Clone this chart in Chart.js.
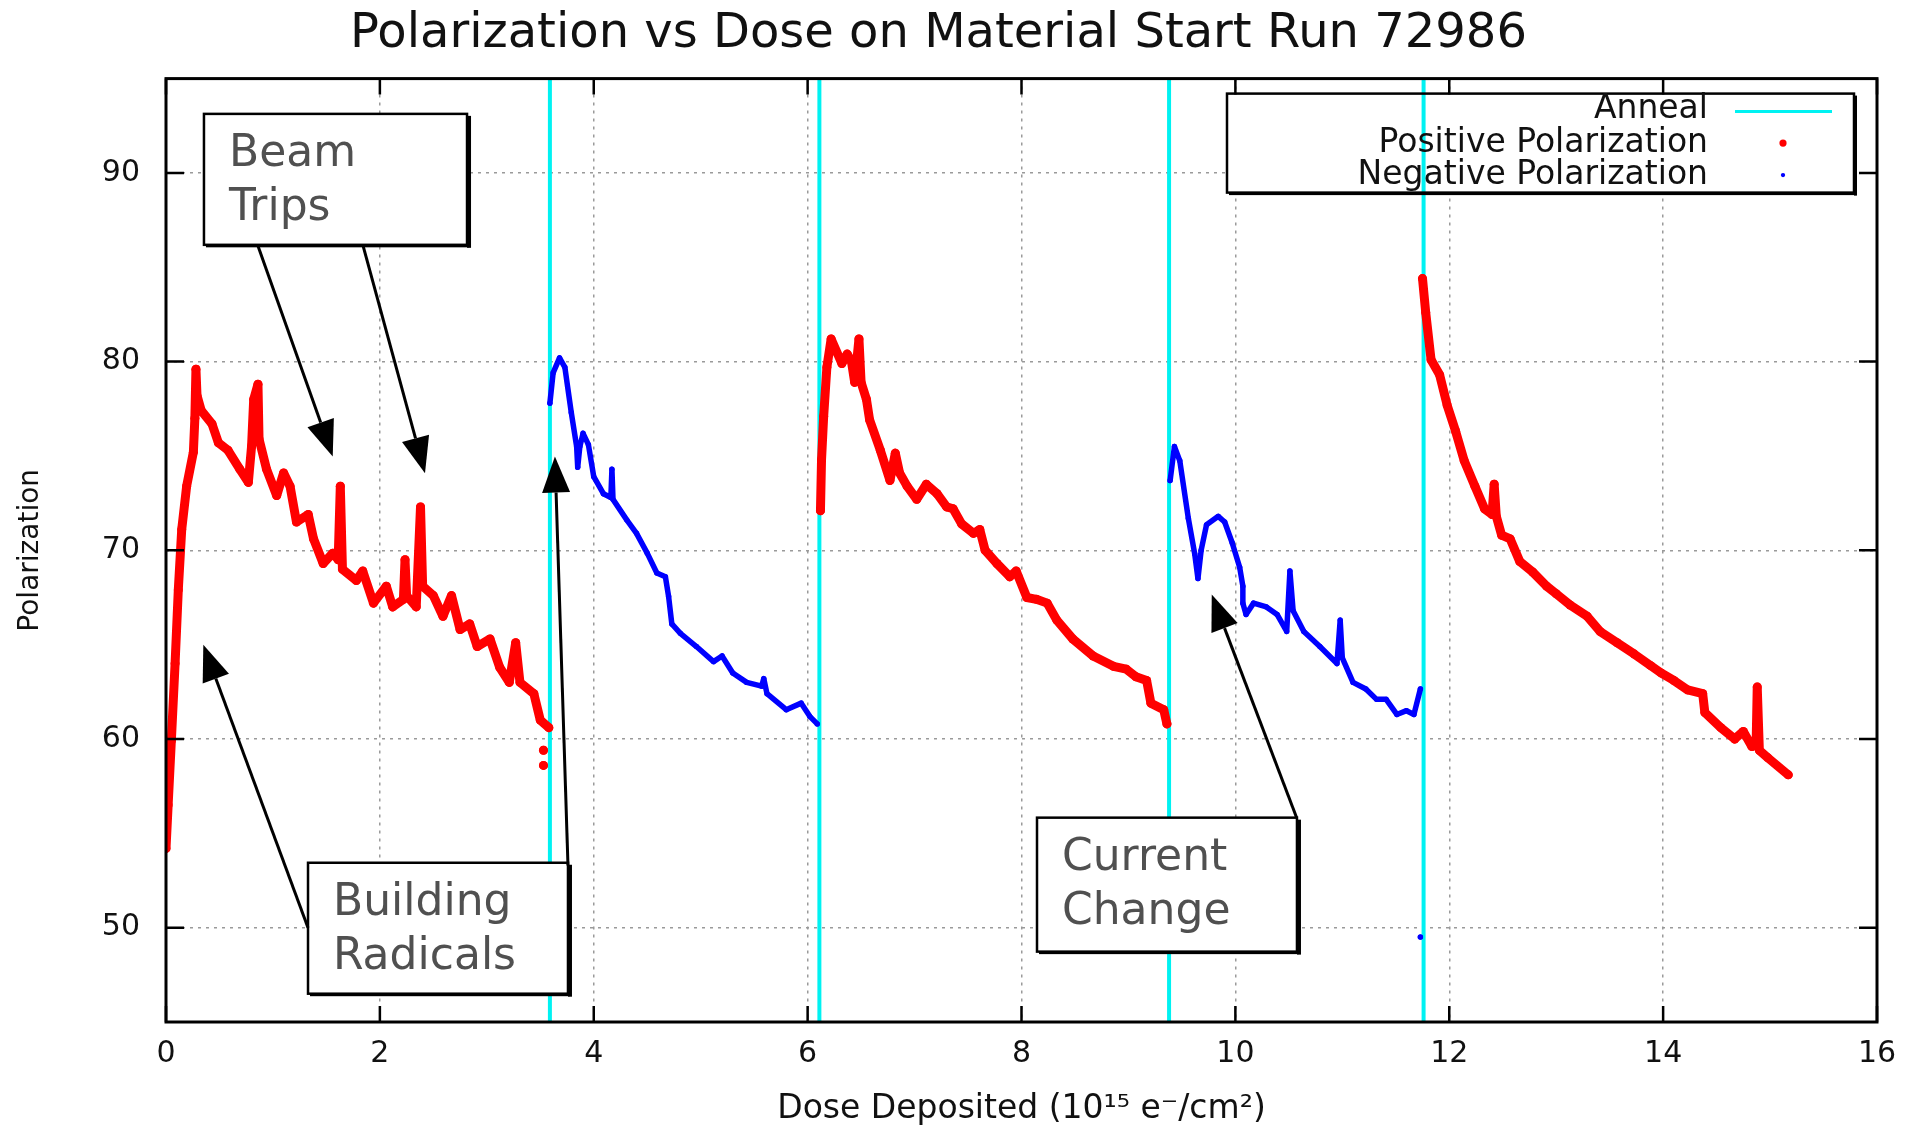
<!DOCTYPE html>
<html>
<head>
<meta charset="utf-8">
<title>Polarization vs Dose</title>
<script src="https://cdn.jsdelivr.net/npm/chart.js@4.4.1/dist/chart.umd.min.js"></script>
<style>
  html, body { margin: 0; padding: 0; background: #fff; }
  #wrap { position: relative; width: 1924px; height: 1125px; }
</style>
</head>
<body>
<div id="wrap"><canvas id="polchart"></canvas></div>
<script>
// dose in 10^15 e-/cm^2, polarization in %. null = break between runs
var posDose = [
  0.0, 0.02, 0.05, 0.085, 0.115, 0.147, 0.193, 0.256, 0.27, 0.28, 0.29, 0.33, 0.43, 0.49, 0.58, 0.69, 0.77, 0.80, 0.82, 0.86,
  0.87, 0.94, 1.035, 1.10, 1.16, 1.22, 1.33, 1.38, 1.47, 1.56, 1.61, 1.63, 1.65, 1.78, 1.84, 1.94, 2.06, 2.12, 2.22, 2.235,
  2.25, 2.34, 2.38, 2.40, 2.50, 2.59, 2.67, 2.75, 2.84, 2.91, 3.03, 3.12, 3.21, 3.27, 3.31, 3.44, 3.50, 3.58,
  null, 3.53, null, 3.53, null,
  6.12, 6.13, 6.15, 6.18, 6.22, 6.32, 6.37, 6.41, 6.44, 6.48, 6.50, 6.55, 6.58, 6.68, 6.77, 6.82, 6.86, 6.93, 7.02, 7.11,
  7.21, 7.30, 7.36, 7.44, 7.55, 7.61, 7.66, 7.77, 7.89, 7.95, 8.05, 8.14, 8.24, 8.33, 8.48, 8.67, 8.86, 8.98, 9.07, 9.17,
  9.21, 9.33, 9.36,
  null,
  11.75, 11.78, 11.83, 11.91, 11.98, 12.06, 12.14, 12.24, 12.33, 12.40, 12.42, 12.44, 12.49, 12.57, 12.66, 12.78, 12.91, 13.0, 13.13, 13.29,
  13.41, 13.57, 13.73, 13.88, 13.98, 14.10, 14.23, 14.37, 14.39, 14.54, 14.67, 14.75, 14.83, 14.87, 14.88, 14.90, 14.98, 15.17
];
var posPol = [
  54.2, 56.5, 59.9, 64.0, 67.9, 71.1, 73.4, 75.2, 77.0, 79.6, 78.2, 77.4, 76.7, 75.7, 75.3, 74.3, 73.6, 75.5, 78.0, 78.8,
  75.9, 74.3, 72.9, 74.1, 73.4, 71.5, 71.9, 70.6, 69.3, 69.85, 69.5, 73.4, 69.0, 68.4, 68.9, 67.2, 68.1, 67.0, 67.4, 69.5,
  67.6, 67.0, 72.3, 68.1, 67.6, 66.5, 67.6, 65.8, 66.1, 64.9, 65.3, 63.8, 63.0, 65.1, 63.0, 62.4, 61.0, 60.6,
  null, 59.4, null, 58.6, null,
  72.1, 74.8, 77.1, 79.7, 81.2, 79.9, 80.4, 80.0, 78.9, 81.2, 78.9, 78.0, 76.9, 75.3, 73.7, 75.15, 74.1, 73.4, 72.7, 73.5,
  73.0, 72.3, 72.2, 71.4, 70.9, 71.1, 70.0, 69.3, 68.6, 68.9, 67.5, 67.4, 67.2, 66.3, 65.3, 64.4, 63.85, 63.7, 63.3, 63.1,
  61.9, 61.55, 60.8,
  null,
  84.4, 82.6, 80.1, 79.3, 77.7, 76.3, 74.75, 73.4, 72.2, 71.9, 73.5, 71.8, 70.8, 70.6, 69.4, 68.85, 68.1, 67.7, 67.1, 66.5,
  65.7, 65.1, 64.5, 63.9, 63.5, 63.1, 62.6, 62.4, 61.4, 60.6, 60.0, 60.4, 59.6, 59.8, 62.75, 59.4, 59.0, 58.1
];
var negDose = [
  3.59, 3.62, 3.68, 3.73, 3.79, 3.84, 3.85, 3.87, 3.90, 3.95, 4.00, 4.09, 4.16, 4.17, 4.18, 4.31, 4.40, 4.50, 4.59, 4.67,
  4.70, 4.73, 4.81, 4.96, 5.12, 5.20, 5.30, 5.43, 5.57, 5.59, 5.62, 5.80, 5.94, 6.02, 6.09,
  null,
  9.39, 9.43, 9.48, 9.56, 9.62, 9.65, 9.68, 9.73, 9.84, 9.90, 9.97, 10.04, 10.07, 10.07, 10.10, 10.17, 10.29, 10.39, 10.48, 10.51,
  10.54, 10.64, 10.79, 10.95, 10.98, 11.00, 11.10, 11.22, 11.32, 11.41, 11.51, 11.60, 11.67, 11.73,
  null, 11.73
];
var negPol = [
  77.8, 79.4, 80.2, 79.7, 77.3, 75.5, 74.4, 75.5, 76.2, 75.6, 73.9, 73.0, 72.8, 74.3, 72.7, 71.6, 70.9, 69.85, 68.8, 68.6,
  67.55, 66.1, 65.6, 64.9, 64.1, 64.4, 63.5, 63.0, 62.8, 63.2, 62.4, 61.55, 61.9, 61.2, 60.8,
  null,
  73.7, 75.5, 74.75, 71.7, 69.8, 68.5, 70.0, 71.35, 71.8, 71.5, 70.4, 69.1, 68.1, 67.2, 66.6, 67.2, 67.0, 66.6, 65.7, 68.9,
  66.8, 65.7, 64.9, 64.0, 66.3, 64.3, 63.0, 62.65, 62.1, 62.1, 61.3, 61.5, 61.3, 62.65,
  null, 49.5
];
var annealDose = [3.59, 6.11, 9.38, 11.76];
var xTicks = [0, 2, 4, 6, 8, 10, 12, 14, 16];
var yTicks = [50, 60, 70, 80, 90];
var xMin = 0, xMax = 16, yMin = 45, yMax = 95;

var FONT = 'DejaVu Sans';

function pairs(xs, ys) {
  return xs.map(function(x, i) { return {x: x, y: ys[i]}; });
}
var annealPts = [];
annealDose.forEach(function(d) {
  annealPts.push({x: d, y: yMin}, {x: d, y: yMax}, {x: d, y: null});
});

// text boxes with arrows, in data coordinates: box = [x0, yTop, x1, yBottom], arrow = [fromX, fromY, tipX, tipY]
var notes = [
  {lines: ['Beam', 'Trips'], box: [0.355, 93.13, 2.815, 86.19],
   arrows: [[0.862, 86.10, 1.559, 74.97], [1.845, 86.10, 2.422, 74.09]]},
  {lines: ['Building', 'Radicals'], box: [1.328, 53.44, 3.759, 46.50],
   arrows: [[1.328, 50.0, 0.349, 64.99], [3.759, 53.30, 3.637, 74.97]]},
  {lines: ['Current', 'Change'], box: [8.145, 55.83, 10.576, 48.73],
   arrows: [[10.573, 55.83, 9.779, 67.66]]}
];

function keyBox(chart) {
  var a = chart.chartArea;
  return {x: a.right - 650, y: a.top + 15, w: 627, h: 99};
}

function drawArrow(ctx, x0, y0, x1, y1) {
  var ang = Math.atan2(y1 - y0, x1 - x0);
  var len = 36, half = 14;
  var bx = x1 - len * Math.cos(ang), by = y1 - len * Math.sin(ang);
  ctx.beginPath();
  ctx.moveTo(x0, y0);
  ctx.lineTo(bx, by);
  ctx.stroke();
  ctx.beginPath();
  ctx.moveTo(x1, y1);
  ctx.lineTo(bx + half * Math.sin(ang), by - half * Math.cos(ang));
  ctx.lineTo(bx - half * Math.sin(ang), by + half * Math.cos(ang));
  ctx.closePath();
  ctx.fill();
}

function shadowBox(ctx, x, y, w, h) {
  ctx.fillStyle = '#fff';
  ctx.fillRect(x, y, w, h);
  ctx.strokeStyle = '#000';
  ctx.lineWidth = 2.5;
  ctx.strokeRect(x, y, w, h);
  ctx.fillStyle = '#000';
  ctx.fillRect(x + w, y + 2, 4, h + 1);
  ctx.fillRect(x + 2, y + h, w, 2.5);
}

var decor = {
  id: 'decor',
  beforeDatasetsDraw: function(chart) {
    var ctx = chart.ctx, k = keyBox(chart);
    ctx.save();
    ctx.fillStyle = '#fff';
    ctx.fillRect(k.x, k.y, k.w, k.h);
    ctx.restore();
  },
  afterDraw: function(chart) {
    var ctx = chart.ctx, a = chart.chartArea;
    var xs = chart.scales.x, ys = chart.scales.y;
    ctx.save();

    // frame + inward ticks
    ctx.strokeStyle = '#000';
    ctx.lineWidth = 3;
    ctx.strokeRect(a.left, a.top, a.right - a.left, a.bottom - a.top);
    ctx.lineWidth = 2.5;
    ctx.beginPath();
    xTicks.forEach(function(v) {
      var px = xs.getPixelForValue(v);
      ctx.moveTo(px, a.bottom); ctx.lineTo(px, a.bottom - 16);
      ctx.moveTo(px, a.top); ctx.lineTo(px, a.top + 16);
    });
    yTicks.forEach(function(v) {
      var py = ys.getPixelForValue(v);
      ctx.moveTo(a.left, py); ctx.lineTo(a.left + 18, py);
      ctx.moveTo(a.right, py); ctx.lineTo(a.right - 18, py);
    });
    ctx.stroke();

    // key
    var k = keyBox(chart);
    ctx.strokeStyle = '#000';
    ctx.lineWidth = 2.5;
    ctx.strokeRect(k.x, k.y, k.w, k.h);
    ctx.fillStyle = '#000';
    ctx.fillRect(k.x + k.w, k.y + 2, 3, k.h + 1);
    ctx.fillRect(k.x + 2, k.y + k.h, k.w, 2.5);
    ctx.font = '33px "' + FONT + '"';
    ctx.textAlign = 'right';
    ctx.textBaseline = 'middle';
    var rows = [16, 49.5, 81.5];
    chart.data.datasets.forEach(function(ds, i) {
      var cy = k.y + rows[i];
      ctx.fillStyle = '#111';
      ctx.fillText(ds.label, k.x + 481, cy);
      if (ds.pointRadius === 0) {
        ctx.strokeStyle = ds.borderColor;
        ctx.lineWidth = 3;
        ctx.beginPath();
        ctx.moveTo(k.x + 508, cy + 2); ctx.lineTo(k.x + 605, cy + 2);
        ctx.stroke();
      } else {
        ctx.fillStyle = ds.borderColor;
        ctx.beginPath();
        ctx.arc(k.x + 556, cy, ds.pointRadius * 0.8, 0, Math.PI * 2);
        ctx.fill();
      }
    });

    // annotations
    notes.forEach(function(n) {
      var x0 = xs.getPixelForValue(n.box[0]), y0 = ys.getPixelForValue(n.box[1]);
      var x1 = xs.getPixelForValue(n.box[2]), y1 = ys.getPixelForValue(n.box[3]);
      shadowBox(ctx, x0, y0, x1 - x0, y1 - y0);
      ctx.fillStyle = '#505050';
      ctx.font = '44px "' + FONT + '"';
      ctx.textAlign = 'left';
      ctx.textBaseline = 'alphabetic';
      n.lines.forEach(function(t, i) {
        ctx.fillText(t, x0 + 25, y0 + 52 + i * 54);
      });
      ctx.strokeStyle = '#000';
      ctx.fillStyle = '#000';
      ctx.lineWidth = 3;
      n.arrows.forEach(function(ar) {
        drawArrow(ctx, xs.getPixelForValue(ar[0]), ys.getPixelForValue(ar[1]),
                  xs.getPixelForValue(ar[2]), ys.getPixelForValue(ar[3]));
      });
    });
    ctx.restore();
  }
};

var ctx = document.getElementById('polchart').getContext('2d');
var polchart = new Chart(ctx, {
  type: 'scatter',
  data: {
    datasets: [
      {
        label: 'Anneal',
        data: annealPts,
        showLine: true,
        borderColor: '#00f2f2',
        borderWidth: 4,
        pointRadius: 0,
        spanGaps: false,
        order: 3
      },
      {
        label: 'Positive Polarization',
        data: pairs(posDose, posPol),
        showLine: true,
        borderColor: '#ff0000',
        backgroundColor: '#ff0000',
        borderWidth: 9,
        borderJoinStyle: 'round',
        borderCapStyle: 'round',
        pointRadius: 4.5,
        pointBorderWidth: 0,
        spanGaps: false,
        order: 1
      },
      {
        label: 'Negative Polarization',
        data: pairs(negDose, negPol),
        showLine: true,
        borderColor: '#0000ff',
        backgroundColor: '#0000ff',
        borderWidth: 5.5,
        borderJoinStyle: 'round',
        borderCapStyle: 'round',
        pointRadius: 2.7,
        pointBorderWidth: 0,
        spanGaps: false,
        order: 2
      }
    ]
  },
  options: {
    responsive: true,
    maintainAspectRatio: false,
    animation: false,
    layout: { padding: { left: 0, right: 47, top: 0, bottom: 0 } },
    plugins: {
      legend: { display: false },
      tooltip: { enabled: false },
      title: {
        display: true,
        text: 'Polarization vs Dose on Material Start Run 72986',
        color: '#111',
        font: { family: FONT, size: 48, weight: 'normal' },
        padding: { top: 6, bottom: 15 }
      }
    },
    scales: {
      x: {
        type: 'linear',
        min: xMin,
        max: xMax,
        afterBuildTicks: function(s) { s.ticks = xTicks.map(function(v) { return {value: v}; }); },
        afterFit: function(s) { s.height = 103; },
        grid: { color: '#9a9a9a', lineWidth: 1.5, drawTicks: false },
        border: { display: false, dash: [3, 5] },
        ticks: { color: '#111', padding: 14, maxRotation: 0, font: { family: FONT, size: 30 } },
        title: {
          display: true,
          text: 'Dose Deposited (10¹⁵ e⁻/cm²)',
          color: '#111',
          font: { family: FONT, size: 33, weight: 'normal' },
          padding: { top: 0, bottom: -4 }
        }
      },
      y: {
        min: yMin,
        max: yMax,
        afterBuildTicks: function(s) { s.ticks = yTicks.map(function(v) { return {value: v}; }); },
        afterFit: function(s) { s.width = 166; },
        grid: { color: '#9a9a9a', lineWidth: 1.5, drawTicks: false },
        border: { display: false, dash: [3, 5] },
        ticks: { color: '#111', padding: 26, font: { family: FONT, size: 30 } },
        title: {
          display: true,
          text: 'Polarization',
          color: '#111',
          font: { family: FONT, size: 28, weight: 'normal' },
          padding: { top: 14, bottom: 0 }
        }
      }
    }
  },
  plugins: [decor]
});
</script>
</body>
</html>
